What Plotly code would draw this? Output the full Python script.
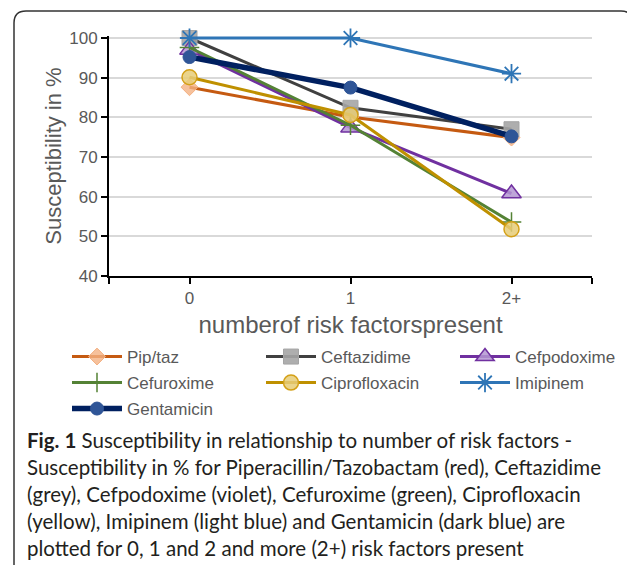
import plotly.graph_objects as go

categories = ["0", "1", "2+"]
x_pos = [0, 1, 2]

series_names = ["Pip/taz", "Ceftazidime", "Cefpodoxime", "Cefuroxime",
                "Ciprofloxacin", "Imipinem", "Gentamicin"]
pip_taz = [87.6, 80.1, 74.9]
ceftazidime = [100, 82.4, 77.0]
cefpodoxime = [97.0, 77.4, 60.8]
cefuroxime = [97.6, 78.0, 53.6]
ciprofloxacin = [90.1, 80.6, 51.8]
imipinem = [100, 100, 91.0]
gentamicin = [95.2, 87.5, 75.2]

y_ticks = [40, 50, 60, 70, 80, 90, 100]

caption_lines = [
    "<b>Fig. 1</b> Susceptibility in relationship to number of risk factors -",
    "Susceptibility in % for Piperacillin/Tazobactam (red), Ceftazidime",
    "(grey), Cefpodoxime (violet), Cefuroxime (green), Ciprofloxacin",
    "(yellow), Imipinem (light blue) and Gentamicin (dark blue) are",
    "plotted for 0, 1 and 2 and more (2+) risk factors present",
]

styles = [
    dict(line=dict(color="#c55a11", width=3),
         marker=dict(symbol="diamond", size=13, color="rgba(244,177,131,0.8)",
                     line=dict(color="#f4b183", width=1))),
    dict(line=dict(color="#404040", width=3),
         marker=dict(symbol="square", size=15, color="rgba(165,165,165,0.9)",
                     line=dict(color="#a5a5a5", width=1))),
    dict(line=dict(color="#7030a0", width=3),
         marker=dict(symbol="triangle-up", size=17, color="rgba(180,150,210,0.85)",
                     line=dict(color="#7030a0", width=1.5))),
    dict(line=dict(color="#548235", width=3),
         marker=dict(symbol="cross-thin-open", size=14, color="#548235",
                     line=dict(color="#548235", width=1.5))),
    dict(line=dict(color="#bf9000", width=3),
         marker=dict(symbol="circle", size=15, color="rgba(230,205,120,0.85)",
                     line=dict(color="#d4a017", width=1.5))),
    dict(line=dict(color="#2e75b6", width=3),
         marker=dict(symbol="asterisk-open", size=16, color="#2e75b6",
                     line=dict(color="#2e75b6", width=1.8))),
    dict(line=dict(color="#002060", width=5.5),
         marker=dict(symbol="circle", size=13, color="#2f5597",
                     line=dict(color="#2f5597", width=1))),
]
legend_ids = ["legend", "legend", "legend", "legend2", "legend2", "legend2", "legend3"]

data = [pip_taz, ceftazidime, cefpodoxime, cefuroxime, ciprofloxacin, imipinem, gentamicin]

fig = go.Figure()
for name, vals, st, lg in zip(series_names, data, styles, legend_ids):
    fig.add_trace(go.Scatter(x=x_pos, y=vals, mode="lines+markers", name=name,
                             line=st["line"], marker=st["marker"], cliponaxis=False,
                             legend=lg))

# the page body adds an 8px offset; work in screenshot coordinates
OFF = 8
W, H = 635 - OFF, 565 - OFF
L, R, T, B = 109, 592, 36, 276      # plot area in screenshot px
Y100 = 38
y_top = 100 + (Y100 - T) * 60 / (B - Y100)
pw, ph = R - L, B - T

def px(x):
    return (x - L) / pw

def py(y):
    return (B - y) / ph

# rounded figure frame
x0, x1, yt, yb = px(14), px(633), py(11), py(580)
rx, ry = 12 / pw, 12 / ph
path = (f"M {x0},{yb} L {x0},{yt - ry} Q {x0},{yt} {x0 + rx},{yt} "
        f"L {x1 - rx},{yt} Q {x1},{yt} {x1},{yt - ry} L {x1},{yb}")

shapes = [dict(type="path", xref="paper", yref="paper", path=path,
               line=dict(color="#333333", width=1.5))]

annotations = []
ys = [440, 467, 494, 521, 548]
for txt, yy in zip(caption_lines, ys):
    annotations.append(dict(text=txt, xref="paper", yref="paper", x=px(25), y=py(yy),
                            xanchor="left", yanchor="middle", showarrow=False,
                            font=dict(family="Lato, Open Sans, sans-serif", size=20.5, color="#231f20")))

leg_common = dict(orientation="h", xanchor="left", yanchor="top",
                  entrywidth=129, entrywidthmode="pixels", itemwidth=50,
                  font=dict(size=17, color="#595959"), bgcolor="rgba(0,0,0,0)",
                  traceorder="normal")

fig.update_layout(
    width=W, height=H,
    margin=dict(l=L - OFF, r=W - (R - OFF), t=T - OFF, b=H - (B - OFF), autoexpand=False),
    paper_bgcolor="white", plot_bgcolor="white",
    font=dict(family="Liberation Sans, Arial, sans-serif", color="#595959"),
    xaxis=dict(range=[-0.5, 2.5], tickvals=[-0.5, 0, 1, 2, 2.5],
               ticktext=["", categories[0], categories[1], categories[2], ""],
               showgrid=False, zeroline=False, showline=True, linecolor="black", linewidth=2,
               ticks="outside", ticklen=6, tickwidth=1.5, tickcolor="black",
               tickfont=dict(size=17, color="#595959"),
               title=dict(text="numberof risk factorspresent", font=dict(size=24, color="#595959"),
                          standoff=9)),
    yaxis=dict(range=[40, y_top], tickvals=y_ticks, showgrid=True, gridcolor="#d9d9d9", gridwidth=1.5,
               zeroline=False, showline=True, linecolor="black", linewidth=2,
               ticks="outside", ticklen=6, tickwidth=1.5, tickcolor="black",
               tickfont=dict(size=17, color="#595959"),
               title=dict(text="Susceptibility in %", font=dict(size=22, color="#595959"),
                          standoff=2)),
    legend=dict(x=px(67), y=py(339), **leg_common),
    legend2=dict(x=px(67), y=py(365), **leg_common),
    legend3=dict(x=px(67), y=py(391), **leg_common),
    shapes=shapes,
    annotations=annotations,
    showlegend=True,
)

fig.write_html("out.html")
